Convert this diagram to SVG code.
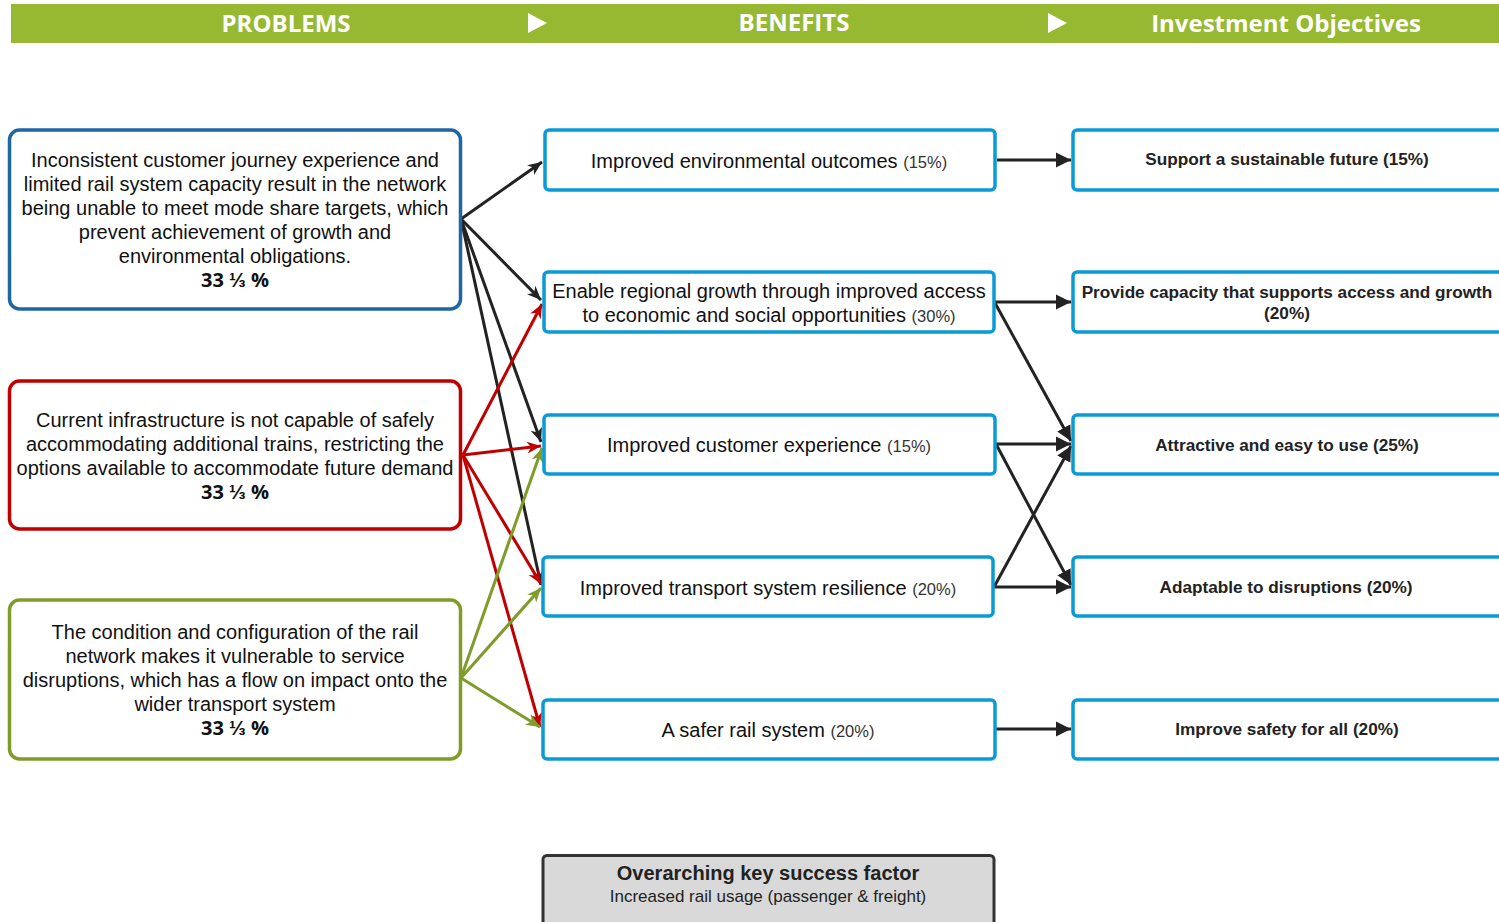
<svg xmlns="http://www.w3.org/2000/svg" width="1499" height="922" viewBox="0 0 1499 922">
<style>
.hdr{font-family:"Open Sans","Liberation Sans",sans-serif;font-weight:700;font-size:24px;fill:#fff;text-anchor:middle}
.pt{font-family:"Liberation Sans",Arial,sans-serif;font-size:20px;fill:#111;text-anchor:middle}
.pct{font-family:"Open Sans","Liberation Sans",sans-serif;font-weight:700;font-size:20px;fill:#111;text-anchor:middle}
.bt{font-family:"Liberation Sans",Arial,sans-serif;font-size:20px;fill:#111;text-anchor:middle}
.sm{font-size:16.5px;fill:#333}
.ot{font-family:"Liberation Sans",Arial,sans-serif;font-weight:700;font-size:17.2px;fill:#222;text-anchor:middle}
.pbox{fill:#fff;stroke-width:3.5}
.bbox{fill:#fff;stroke:#0A9AD6;stroke-width:3.5}
.c{fill:none;stroke-width:3}
</style>
<defs>
<marker id="aBk" markerWidth="16" markerHeight="14" refX="14" refY="7" orient="auto" markerUnits="userSpaceOnUse"><path d="M0,1 L14,7 L0,13 L4,7 z" fill="#222"/></marker>
<marker id="aRd" markerWidth="16" markerHeight="14" refX="14" refY="7" orient="auto" markerUnits="userSpaceOnUse"><path d="M0,1 L14,7 L0,13 L4,7 z" fill="#C00000"/></marker>
<marker id="aGr" markerWidth="16" markerHeight="14" refX="14" refY="7" orient="auto" markerUnits="userSpaceOnUse"><path d="M0,1 L14,7 L0,13 L4,7 z" fill="#7F9C2A"/></marker>
<marker id="aSo" markerWidth="16" markerHeight="16" refX="15" refY="8" orient="auto" markerUnits="userSpaceOnUse"><path d="M0,0.5 L15,8 L0,15.5 z" fill="#222"/></marker>
</defs>

<g id="header">
<rect x="11" y="4" width="1488" height="39" fill="#97B932"/>
<text class="hdr" x="286" y="32">PROBLEMS</text>
<polygon points="528,13 547,23 528,33" fill="#fff"/>
<text class="hdr" x="794" y="31">BENEFITS</text>
<polygon points="1048,13 1067,23 1048,33" fill="#fff"/>
<text class="hdr" x="1286" y="32">Investment Objectives</text>
</g>

<g id="connectors">
<line class="c" stroke="#222" x1="461" y1="219" x2="542" y2="162" marker-end="url(#aBk)"/>
<line class="c" stroke="#222" x1="461" y1="219" x2="541" y2="300" marker-end="url(#aBk)"/>
<line class="c" stroke="#222" x1="461" y1="219" x2="541" y2="442" marker-end="url(#aBk)"/>
<line class="c" stroke="#222" x1="461" y1="219" x2="541" y2="585" marker-end="url(#aBk)"/>
<line class="c" stroke="#C00000" x1="463" y1="455" x2="542" y2="304" marker-end="url(#aRd)"/>
<line class="c" stroke="#C00000" x1="463" y1="455" x2="541" y2="446" marker-end="url(#aRd)"/>
<line class="c" stroke="#C00000" x1="463" y1="455" x2="541" y2="584" marker-end="url(#aRd)"/>
<line class="c" stroke="#C00000" x1="463" y1="455" x2="540" y2="727" marker-end="url(#aRd)"/>
<line class="c" stroke="#7F9C2A" x1="461" y1="678" x2="542" y2="448" marker-end="url(#aGr)"/>
<line class="c" stroke="#7F9C2A" x1="461" y1="678" x2="541" y2="588" marker-end="url(#aGr)"/>
<line class="c" stroke="#7F9C2A" x1="461" y1="678" x2="540" y2="727" marker-end="url(#aGr)"/>
<line class="c" stroke="#222" x1="997" y1="160" x2="1071" y2="160" marker-end="url(#aSo)"/>
<line class="c" stroke="#222" x1="995" y1="302" x2="1071" y2="302" marker-end="url(#aSo)"/>
<line class="c" stroke="#222" x1="995" y1="303" x2="1071" y2="441" marker-end="url(#aSo)"/>
<line class="c" stroke="#222" x1="996" y1="444" x2="1071" y2="444" marker-end="url(#aSo)"/>
<line class="c" stroke="#222" x1="996" y1="444" x2="1071" y2="585" marker-end="url(#aSo)"/>
<line class="c" stroke="#222" x1="994" y1="587" x2="1071" y2="587" marker-end="url(#aSo)"/>
<line class="c" stroke="#222" x1="994" y1="587" x2="1071" y2="446" marker-end="url(#aSo)"/>
<line class="c" stroke="#222" x1="996" y1="729" x2="1071" y2="729" marker-end="url(#aSo)"/>
</g>

<g id="problem1">
<rect class="pbox" stroke="#1E66A4" x="9.5" y="130" width="451" height="179" rx="10"/>
<text class="pt" x="235" y="167">Inconsistent customer journey experience and</text>
<text class="pt" x="235" y="191">limited rail system capacity result in the network</text>
<text class="pt" x="235" y="215">being unable to meet mode share targets, which</text>
<text class="pt" x="235" y="239">prevent achievement of growth and</text>
<text class="pt" x="235" y="263">environmental obligations.</text>
<text class="pct" x="235" y="287">33 ⅓ %</text>
</g>

<g id="problem2">
<rect class="pbox" stroke="#C00000" x="9.5" y="381" width="451" height="148" rx="10"/>
<text class="pt" x="235" y="427">Current infrastructure is not capable of safely</text>
<text class="pt" x="235" y="451">accommodating additional trains, restricting the</text>
<text class="pt" x="235" y="475">options available to accommodate future demand</text>
<text class="pct" x="235" y="499">33 ⅓ %</text>
</g>

<g id="problem3">
<rect class="pbox" stroke="#7F9C2A" x="9.5" y="600" width="451" height="159" rx="10"/>
<text class="pt" x="235" y="639">The condition and configuration of the rail</text>
<text class="pt" x="235" y="663">network makes it vulnerable to service</text>
<text class="pt" x="235" y="687">disruptions, which has a flow on impact onto the</text>
<text class="pt" x="235" y="711">wider transport system</text>
<text class="pct" x="235" y="735">33 ⅓ %</text>
</g>

<g id="benefit1">
<rect class="bbox" x="545" y="130" width="450" height="60" rx="4"/>
<text class="bt" x="769" y="168">Improved environmental outcomes <tspan class="sm">(15%)</tspan></text>
</g>
<g id="benefit2">
<rect class="bbox" x="544" y="272" width="450" height="60" rx="4"/>
<text class="bt" x="769" y="298">Enable regional growth through improved access</text>
<text class="bt" x="769" y="322">to economic and social opportunities <tspan class="sm">(30%)</tspan></text>
</g>
<g id="benefit3">
<rect class="bbox" x="544" y="415" width="451" height="59" rx="4"/>
<text class="bt" x="769" y="452">Improved customer experience <tspan class="sm">(15%)</tspan></text>
</g>
<g id="benefit4">
<rect class="bbox" x="543" y="557" width="450" height="59" rx="4"/>
<text class="bt" x="768" y="595">Improved transport system resilience <tspan class="sm">(20%)</tspan></text>
</g>
<g id="benefit5">
<rect class="bbox" x="543" y="700" width="452" height="59" rx="4"/>
<text class="bt" x="768" y="737">A safer rail system <tspan class="sm">(20%)</tspan></text>
</g>

<g id="objective1">
<rect class="bbox" x="1073" y="130" width="440" height="60" rx="4"/>
<text class="ot" x="1287" y="165">Support a sustainable future (15%)</text>
</g>
<g id="objective2">
<rect class="bbox" x="1073" y="272" width="440" height="60" rx="4"/>
<text class="ot" x="1287" y="298">Provide capacity that supports access and growth</text>
<text class="ot" x="1287" y="319">(20%)</text>
</g>
<g id="objective3">
<rect class="bbox" x="1073" y="415" width="440" height="59" rx="4"/>
<text class="ot" x="1287" y="451">Attractive and easy to use (25%)</text>
</g>
<g id="objective4">
<rect class="bbox" x="1073" y="557" width="440" height="59" rx="4"/>
<text class="ot" x="1286" y="593">Adaptable to disruptions (20%)</text>
</g>
<g id="objective5">
<rect class="bbox" x="1073" y="700" width="440" height="59" rx="4"/>
<text class="ot" x="1287" y="735">Improve safety for all (20%)</text>
</g>

<g id="ksf">
<rect x="543" y="855.5" width="451" height="90" rx="4" fill="#D9D9D9" stroke="#333" stroke-width="3"/>
<text class="bt" x="768" y="880" style="font-weight:700;fill:#222">Overarching key success factor</text>
<text class="bt" x="768" y="902" style="font-size:17px;fill:#222">Increased rail usage (passenger &amp; freight)</text>
</g>
</svg>
